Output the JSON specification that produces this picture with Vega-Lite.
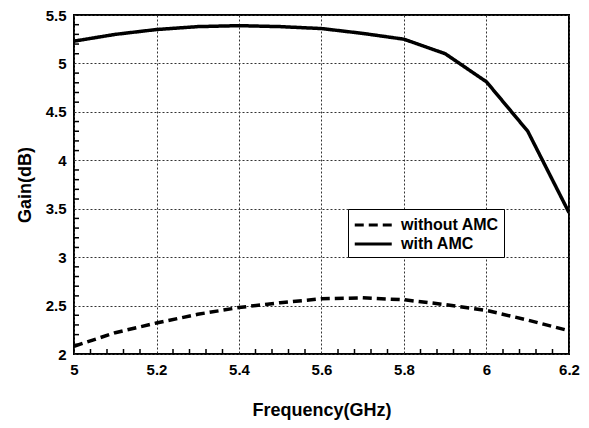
{
  "$schema": "https://vega.github.io/schema/vega-lite/v6.json",
  "width": 495,
  "height": 339,
  "autosize": {"type": "none"},
  "padding": {"left": 74, "top": 15, "right": 19, "bottom": 74},
  "background": "white",
  "config": {
    "view": {"stroke": "black", "strokeWidth": 2},
    "font": "Liberation Sans",
    "axis": {
      "labelFont": "Liberation Sans",
      "labelFontWeight": "bold",
      "labelFontSize": 15,
      "labelColor": "black",
      "titleFont": "Liberation Sans",
      "titleFontWeight": "bold",
      "titleFontSize": 18,
      "titleColor": "black",
      "domain": false,
      "ticks": false,
      "gridColor": "#333333",
      "gridDash": [2, 2],
      "gridWidth": 1,
      "labelOverlap": false,
      "labelFlush": false
    }
  },
  "datasets": {
    "gain": [
      {"f": 5.0, "g": 5.23, "s": "with AMC"},
      {"f": 5.1, "g": 5.30, "s": "with AMC"},
      {"f": 5.2, "g": 5.35, "s": "with AMC"},
      {"f": 5.3, "g": 5.38, "s": "with AMC"},
      {"f": 5.4, "g": 5.39, "s": "with AMC"},
      {"f": 5.5, "g": 5.38, "s": "with AMC"},
      {"f": 5.6, "g": 5.36, "s": "with AMC"},
      {"f": 5.7, "g": 5.31, "s": "with AMC"},
      {"f": 5.8, "g": 5.25, "s": "with AMC"},
      {"f": 5.9, "g": 5.10, "s": "with AMC"},
      {"f": 6.0, "g": 4.81, "s": "with AMC"},
      {"f": 6.1, "g": 4.30, "s": "with AMC"},
      {"f": 6.2, "g": 3.46, "s": "with AMC"},
      {"f": 5.0, "g": 2.08, "s": "without AMC"},
      {"f": 5.1, "g": 2.22, "s": "without AMC"},
      {"f": 5.2, "g": 2.32, "s": "without AMC"},
      {"f": 5.3, "g": 2.41, "s": "without AMC"},
      {"f": 5.4, "g": 2.48, "s": "without AMC"},
      {"f": 5.5, "g": 2.53, "s": "without AMC"},
      {"f": 5.6, "g": 2.57, "s": "without AMC"},
      {"f": 5.7, "g": 2.58, "s": "without AMC"},
      {"f": 5.8, "g": 2.56, "s": "without AMC"},
      {"f": 5.9, "g": 2.51, "s": "without AMC"},
      {"f": 6.0, "g": 2.45, "s": "without AMC"},
      {"f": 6.1, "g": 2.35, "s": "without AMC"},
      {"f": 6.2, "g": 2.24, "s": "without AMC"}
    ],
    "xminor": [
      {"t": 5.04}, {"t": 5.08}, {"t": 5.12}, {"t": 5.16},
      {"t": 5.24}, {"t": 5.28}, {"t": 5.32}, {"t": 5.36},
      {"t": 5.44}, {"t": 5.48}, {"t": 5.52}, {"t": 5.56},
      {"t": 5.64}, {"t": 5.68}, {"t": 5.72}, {"t": 5.76},
      {"t": 5.84}, {"t": 5.88}, {"t": 5.92}, {"t": 5.96},
      {"t": 6.04}, {"t": 6.08}, {"t": 6.12}, {"t": 6.16}
    ],
    "yminor": [
      {"u": 2.1}, {"u": 2.2}, {"u": 2.3}, {"u": 2.4},
      {"u": 2.6}, {"u": 2.7}, {"u": 2.8}, {"u": 2.9},
      {"u": 3.1}, {"u": 3.2}, {"u": 3.3}, {"u": 3.4},
      {"u": 3.6}, {"u": 3.7}, {"u": 3.8}, {"u": 3.9},
      {"u": 4.1}, {"u": 4.2}, {"u": 4.3}, {"u": 4.4},
      {"u": 4.6}, {"u": 4.7}, {"u": 4.8}, {"u": 4.9},
      {"u": 5.1}, {"u": 5.2}, {"u": 5.3}, {"u": 5.4}
    ]
  },
  "layer": [
    {
      "data": {"name": "gain"},
      "mark": {"type": "line", "color": "black", "strokeWidth": 3.5, "clip": true},
      "encoding": {
        "x": {
          "field": "f", "type": "quantitative",
          "scale": {"domain": [5, 6.2], "nice": false, "zero": false},
          "axis": {
            "orient": "bottom",
            "title": "Frequency(GHz)",
            "values": [5, 5.2, 5.4, 5.6, 5.8, 6, 6.2],
            "format": "~g",
            "grid": true,
            "labelPadding": 8,
            "titlePadding": 24
          }
        },
        "y": {
          "field": "g", "type": "quantitative",
          "scale": {"domain": [2, 5.5], "nice": false, "zero": false},
          "axis": {
            "orient": "left",
            "title": "Gain(dB)",
            "values": [2, 2.5, 3, 3.5, 4, 4.5, 5, 5.5],
            "format": "~g",
            "grid": true,
            "labelPadding": 8,
            "titlePadding": 11
          }
        },
        "strokeDash": {
          "field": "s", "type": "nominal",
          "scale": {"domain": ["without AMC", "with AMC"], "range": [[9, 5], [1, 0]]},
          "legend": {
            "title": null,
            "orient": "none",
            "legendX": 274,
            "legendY": 194,
            "symbolType": "M-1,0H3",
            "symbolSize": 342,
            "symbolStrokeWidth": 3,
            "symbolStrokeColor": "black",
            "symbolFillColor": "transparent",
            "labelFont": "Liberation Sans",
            "labelFontWeight": "bold",
            "labelFontSize": 16,
            "labelColor": "black",
            "strokeColor": "black",
            "fillColor": "white",
            "padding": 5,
            "rowPadding": 0,
            "labelOffset": 26,
            "offset": 0,
            "zindex": 2
          }
        }
      }
    },
    {
      "data": {"name": "xminor"},
      "mark": {"type": "tick", "orient": "vertical", "color": "black", "size": 10, "thickness": 1.5, "opacity": 1, "clip": true},
      "encoding": {
        "x": {"field": "t", "type": "quantitative"},
        "y": {"datum": 2, "type": "quantitative"}
      }
    },
    {
      "data": {"name": "yminor"},
      "mark": {"type": "tick", "orient": "horizontal", "color": "black", "size": 10, "thickness": 1.5, "opacity": 1, "clip": true},
      "encoding": {
        "y": {"field": "u", "type": "quantitative"},
        "x": {"datum": 5, "type": "quantitative"}
      }
    }
  ]
}
